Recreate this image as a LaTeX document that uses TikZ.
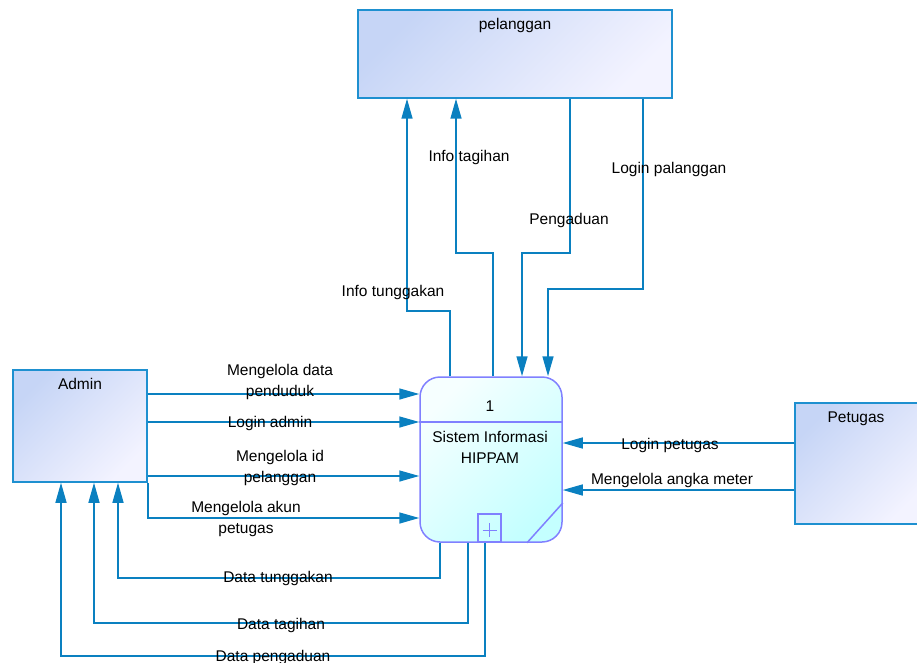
\documentclass[tikz,border=0pt]{standalone}
\usepackage{fontspec}
\setmainfont{Liberation Sans}
\usetikzlibrary{arrows.meta}

\definecolor{flowblue}{RGB}{10,128,192}
\definecolor{entline}{RGB}{30,144,208}
\definecolor{entA}{RGB}{198,213,246}
\definecolor{entB}{RGB}{243,243,255}
\definecolor{procline}{RGB}{128,128,255}
\definecolor{procA}{RGB}{246,255,255}
\definecolor{procB}{RGB}{196,255,255}

\tikzset{
  entity/.style={draw=entline,line width=1.5pt,top color=entA,bottom color=entB,shading angle=45,inner sep=0pt},
  proc/.style={draw=procline,line width=1.5pt,rounded corners=20pt,top color=procA,bottom color=procB,shading angle=45,
    minimum width=142pt,minimum height=165pt,inner sep=0pt},
  flow/.style={draw=flowblue,line width=1.5pt,->},
  lbl/.style={font=\fontsize{15.5}{21}\selectfont,align=center,inner sep=0pt},
  toplbl/.style={lbl,anchor=north,yshift=-9pt}
}

\begin{document}
\begin{tikzpicture}[x=1pt,y=-1pt,>={Triangle[length=20pt,width=11pt]}]
    \useasboundingbox (0,0) rectangle (917,663);
    % external entities
    \node [entity,minimum width=314pt,minimum height=88pt,label={[toplbl]north:pelanggan}] (pel) at (515,54) {};
    \node [entity,minimum width=134pt,minimum height=112pt,label={[toplbl]north:Admin}] (admin) at (80,426) {};
    \node [entity,minimum width=130pt,minimum height=121pt,label={[toplbl,xshift=-4pt]north:Petugas}] (pet) at (860,463.5) {};
    % process
    \node [proc] (proc) at (491,459.5) {};
    \draw [procline,line width=1.5pt] (proc.west |- 0,422) -- (proc.east |- 0,422);
    \node [lbl] (procid) at (490,406) {1};
    \node [lbl] (procname) at (490,447) {Sistem Informasi\\HIPPAM};
    \node [draw=procline,line width=1.5pt,minimum width=23pt,minimum height=28pt,inner sep=0pt,anchor=south] (procmark) at (proc.south -| 489.5,0) {};
    \draw [procline,line width=1pt] (procmark.center) ++(-7,2) -- ++(14,0) (procmark.center) ++(0,-5) -- ++(0,14);
    \draw [procline,line width=1.5pt] (proc.south -| 527,0) -- (proc.east |- 0,503);
    % pelanggan flows
    \draw [flow] (proc.north -| 450,0) |- (407,311) -- (pel.south -| 407,0);
    \draw [flow] (proc.north -| 493,0) |- (456,253) -- (pel.south -| 456,0);
    \draw [flow] (pel.south -| 570,0) |- (522,253) -- (proc.north -| 522,0);
    \draw [flow] (pel.south -| 643,0) |- (548,289) -- (proc.north -| 548,0);
    % admin flows
    \draw [flow] (admin.east |- 0,394) -- (proc.west |- 0,394);
    \draw [flow] (admin.east |- 0,422) -- (proc.west |- 0,422);
    \draw [flow] (admin.east |- 0,476) -- (proc.west |- 0,476);
    \draw [flow] (admin.south east) |- (proc.west |- 0,518);
    \draw [flow] (proc.south -| 440,0) |- (118,578) -- (admin.south -| 118,0);
    \draw [flow] (proc.south -| 468,0) |- (94,623) -- (admin.south -| 94,0);
    \draw [flow] (proc.south -| 485,0) |- (61,656) -- (admin.south -| 61,0);
    % petugas flows
    \draw [flow] (pet.west |- 0,443) -- (proc.east |- 0,443);
    \draw [flow] (pet.west |- 0,490) -- (proc.east |- 0,490);
    % labels
    \node [lbl] (lInfoTunggakan) at (393,292) {Info tunggakan};
    \node [lbl] (lInfoTagihan) at (469,157) {Info tagihan};
    \node [lbl] (lPengaduan) at (569,220) {Pengaduan};
    \node [lbl] (lLoginPel) at (669,169) {Login palanggan};
    \node [lbl] (lDataPenduduk) at (280,382) {Mengelola data\\penduduk};
    \node [lbl] (lLoginAdmin) at (270,423) {Login admin};
    \node [lbl] (lIdPel) at (280,468) {Mengelola id\\pelanggan};
    \node [lbl] (lAkun) at (246,519) {Mengelola akun\\petugas};
    \node [lbl] (lDataTunggakan) at (278,578) {Data tunggakan};
    \node [lbl] (lDataTagihan) at (281,625) {Data tagihan};
    \node [lbl] (lDataPengaduan) at (273,657) {Data pengaduan};
    \node [lbl] (lLoginPet) at (670,445) {Login petugas};
    \node [lbl] (lAngka) at (672,480) {Mengelola angka meter};
\end{tikzpicture}
\end{document}
